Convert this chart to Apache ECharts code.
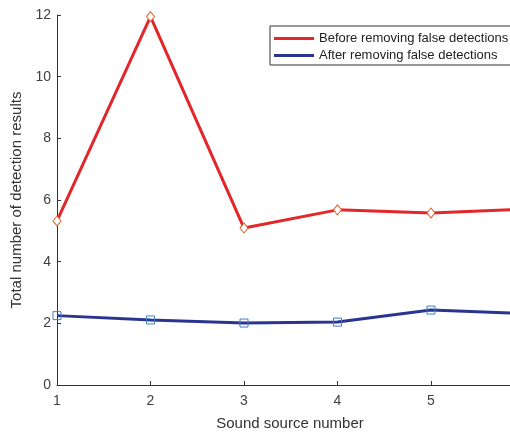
<!DOCTYPE html>
<html>
<head>
<meta charset="utf-8">
<script src="https://cdn.jsdelivr.net/npm/echarts@6/dist/echarts.min.js"></script>
<style>
  html, body { margin: 0; padding: 0; background: #fff; }
  #chart { width: 510px; height: 433px; }
</style>
</head>
<body>
<div id="chart"></div>
<script>
// source numbers and counts (6th point is cut off at the right edge)
var sourceNumbers = [1, 2, 3, 4, 5, 6];
var beforeRemoval = [5.32, 11.95, 5.09, 5.68, 5.58, 5.70];
var afterRemoval = [2.25, 2.11, 2.01, 2.04, 2.43, 2.32];
var yTicks = [0, 2, 4, 6, 8, 10, 12];

var chart = echarts.init(document.getElementById('chart'));

function pairs(values) {
  return sourceNumbers.map(function (x, i) { return [x, values[i]]; });
}

var font = 'Liberation Sans, Arial, sans-serif';

var option = {
  animation: false,
  grid: { left: 57, right: 0, top: 15, bottom: 48, containLabel: false, outerBoundsMode: 'none' },
  legend: {
    orient: 'vertical',
    left: 270,
    top: 26,
    padding: [6, 4, 3, 4],
    itemGap: 4,
    itemWidth: 40,
    itemHeight: 3,
    icon: 'rect',
    borderColor: '#333',
    borderWidth: 1,
    backgroundColor: '#fff',
    textStyle: { fontFamily: font, fontSize: 13, color: '#222' },
    data: [
      { name: 'Before removing false detections', itemStyle: { color: '#e3262a', borderWidth: 0 } },
      { name: 'After removing false detections', itemStyle: { color: '#2a3591', borderWidth: 0 } }
    ]
  },
  xAxis: {
    type: 'value',
    min: 1,
    // the axis is cropped at the window edge, a bit before 6
    max: 5.845,
    interval: 1,
    name: 'Sound source number',
    nameLocation: 'middle',
    nameGap: 31,
    nameTextStyle: { fontFamily: font, fontSize: 15, color: '#333', padding: [0, 0, 0, 13] },
    axisLine: { lineStyle: { color: '#333', width: 1 } },
    axisTick: { inside: true, length: 4, lineStyle: { color: '#333' } },
    axisLabel: { fontFamily: font, fontSize: 14, color: '#404040', margin: 9, showMaxLabel: false },
    splitLine: { show: false }
  },
  yAxis: {
    type: 'value',
    min: yTicks[0],
    max: yTicks[yTicks.length - 1],
    interval: 2,
    name: 'Total number of detection results',
    nameLocation: 'middle',
    nameGap: 29,
    nameTextStyle: { fontFamily: font, fontSize: 15, color: '#333' },
    axisLine: { show: true, lineStyle: { color: '#333', width: 1 } },
    axisTick: { show: true, inside: true, length: 4, lineStyle: { color: '#333' } },
    axisLabel: { fontFamily: font, fontSize: 14, color: '#404040', margin: 6 },
    splitLine: { show: false }
  },
  series: [
    {
      name: 'Before removing false detections',
      type: 'line',
      data: pairs(beforeRemoval),
      lineStyle: { color: '#e3262a', width: 3 },
      symbol: 'diamond',
      symbolSize: [8, 10],
      itemStyle: { color: '#fff', borderColor: '#d9622b', borderWidth: 1 },
      z: 3
    },
    {
      name: 'After removing false detections',
      type: 'line',
      data: pairs(afterRemoval),
      lineStyle: { color: '#2a3591', width: 3 },
      symbol: 'rect',
      symbolSize: 8,
      itemStyle: { color: 'rgba(255,255,255,0)', borderColor: '#3f7fc4', borderWidth: 1 },
      z: 3
    }
  ]
};

chart.setOption(option);
</script>
</body>
</html>
